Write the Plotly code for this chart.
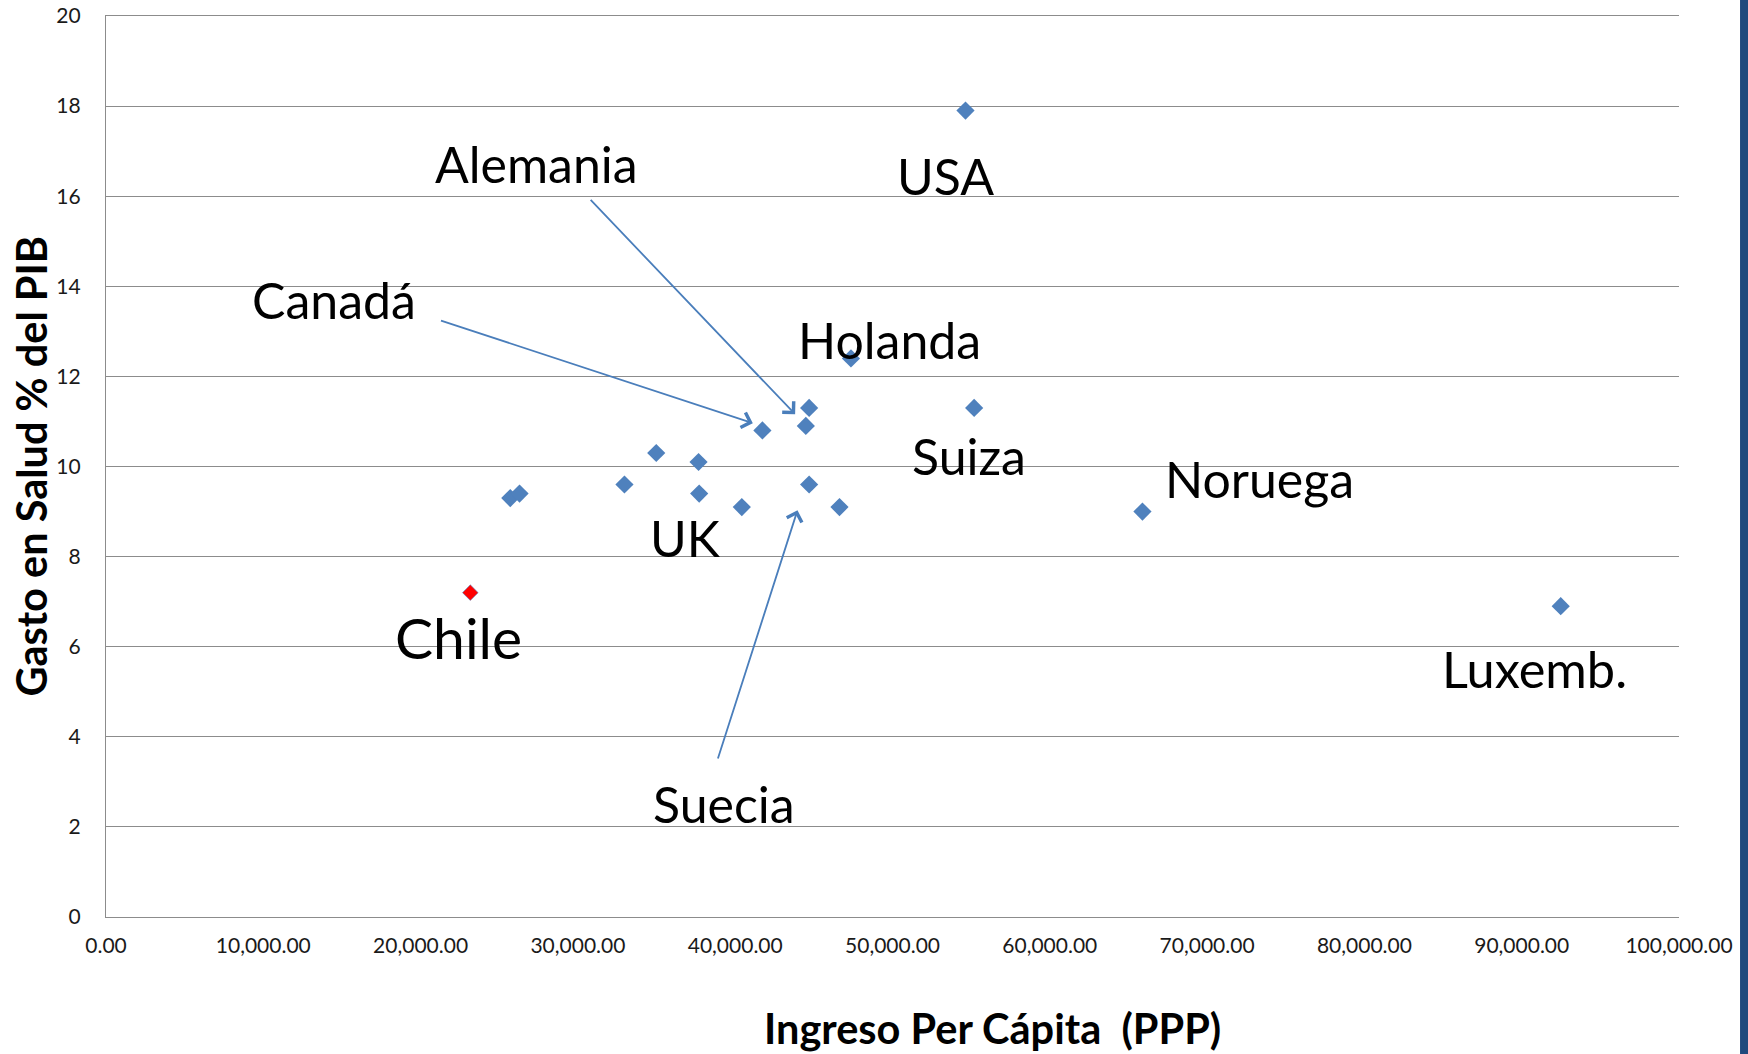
import plotly.graph_objects as go

# ---- data ----
ingreso_ocde = [25700, 26290, 32960, 34980, 37670, 37710, 40420, 41730,
                44490, 44700, 44700, 46630, 47360, 54640, 55190, 65890, 92480]
gasto_ocde = [9.3, 9.4, 9.6, 10.3, 10.1, 9.4, 9.1, 10.8,
              10.9, 11.3, 9.6, 9.1, 12.4, 17.9, 11.3, 9.0, 6.9]

ingreso_chile = [23160]
gasto_chile = [7.2]

x_ticks = [0, 10000, 20000, 30000, 40000, 50000, 60000, 70000, 80000, 90000, 100000]
y_ticks = [0, 2, 4, 6, 8, 10, 12, 14, 16, 18, 20]

# country labels: (text, x, y, size)
etiquetas = [
    ("Alemania", 27380, 16.71, 50),
    ("Canadá", 14510, 13.70, 50),
    ("USA", 53350, 16.45, 50),
    ("Holanda", 49830, 12.81, 50),
    ("Suiza", 54850, 10.24, 50),
    ("Noruega", 73300, 9.73, 50),
    ("Luxemb.", 90800, 5.52, 50.5),
    ("UK", 36860, 8.41, 50),
    ("Chile", 22380, 6.22, 57),
    ("Suecia", 39300, 2.51, 50),
]

# arrows: (tail_x, tail_y, tip_x, tip_y)
flechas = [
    (21200, 13.25, 41120, 10.96),   # Canadá
    (30720, 15.95, 43810, 11.16),   # Alemania
    (38870, 3.485, 43960, 9.03),    # Suecia
]

BLUE = "#4F81BD"
GRID = "#8C8C8C"
FONT = "Lato"

fig = go.Figure()
fig.add_trace(go.Scatter(
    x=ingreso_ocde, y=gasto_ocde, mode="markers",
    marker=dict(symbol="diamond", size=14, color=BLUE, line=dict(width=0)),
    showlegend=False, cliponaxis=False,
))
fig.add_trace(go.Scatter(
    x=ingreso_chile, y=gasto_chile, mode="markers",
    marker=dict(symbol="diamond", size=12, color="#FF0000",
                line=dict(width=0.6, color=BLUE)),
    showlegend=False, cliponaxis=False,
))

for txt, x, y, s in etiquetas:
    fig.add_annotation(x=x, y=y, xref="x", yref="y", text=txt, showarrow=False,
                       xanchor="center", yanchor="middle",
                       font=dict(family=FONT, size=s, color="black"))

for tx, ty, hx, hy in flechas:
    fig.add_annotation(x=hx, y=hy, xref="x", yref="y", ax=tx, ay=ty,
                       axref="x", ayref="y", text="", showarrow=True,
                       arrowhead=4, arrowsize=1.7, arrowwidth=1.8,
                       arrowcolor="#4A7EBB", standoff=0)

# axis titles
fig.add_annotation(x=0.5633, y=-0.1232, xref="paper", yref="paper",
                   text="<b>Ingreso Per Cápita  (PPP)</b>", showarrow=False,
                   xanchor="center", yanchor="middle",
                   font=dict(family=FONT, size=41.5, color="black"))
fig.add_annotation(x=-0.0483, y=0.5, xref="paper", yref="paper",
                   text="<b>Gasto en Salud % del PIB</b>", showarrow=False,
                   textangle=-90, xanchor="center", yanchor="middle",
                   font=dict(family=FONT, size=41.5, color="black"))

# dark blue strip at right edge
fig.add_shape(type="rect", xref="paper", yref="paper",
              x0=1.0388, x1=1.06, y0=-0.2, y1=1.1,
              fillcolor="#1F497D", line=dict(width=0), layer="above")

fig.update_layout(
    width=1748, height=1054, autosize=False,
    margin=dict(l=106, r=69, t=16, b=137, autoexpand=False),
    paper_bgcolor="white", plot_bgcolor="white",
    font=dict(family=FONT, size=21, color="#1a1a1a"),
)
fig.update_xaxes(
    range=[0, 100000], tickvals=x_ticks, tickformat=",.2f",
    showgrid=False, zeroline=False, showline=True, mirror=True,
    linecolor=GRID, linewidth=1.3, automargin=False,
    ticks="", ticklabelstandoff=10,
    tickfont=dict(family=FONT, size=21, color="#1a1a1a"),
)
fig.update_yaxes(
    range=[0, 20], tickvals=y_ticks,
    showgrid=True, gridcolor=GRID, gridwidth=1.3, automargin=False,
    zeroline=False, showline=True, linecolor=GRID, linewidth=1.3,
    ticks="", ticklabelstandoff=20,
    tickfont=dict(family=FONT, size=21, color="#1a1a1a"),
)

fig.write_html("out.html",
               config={"displayModeBar": False},
               post_script="document.body.style.margin='0';"
                           "document.body.style.overflow='hidden';")
